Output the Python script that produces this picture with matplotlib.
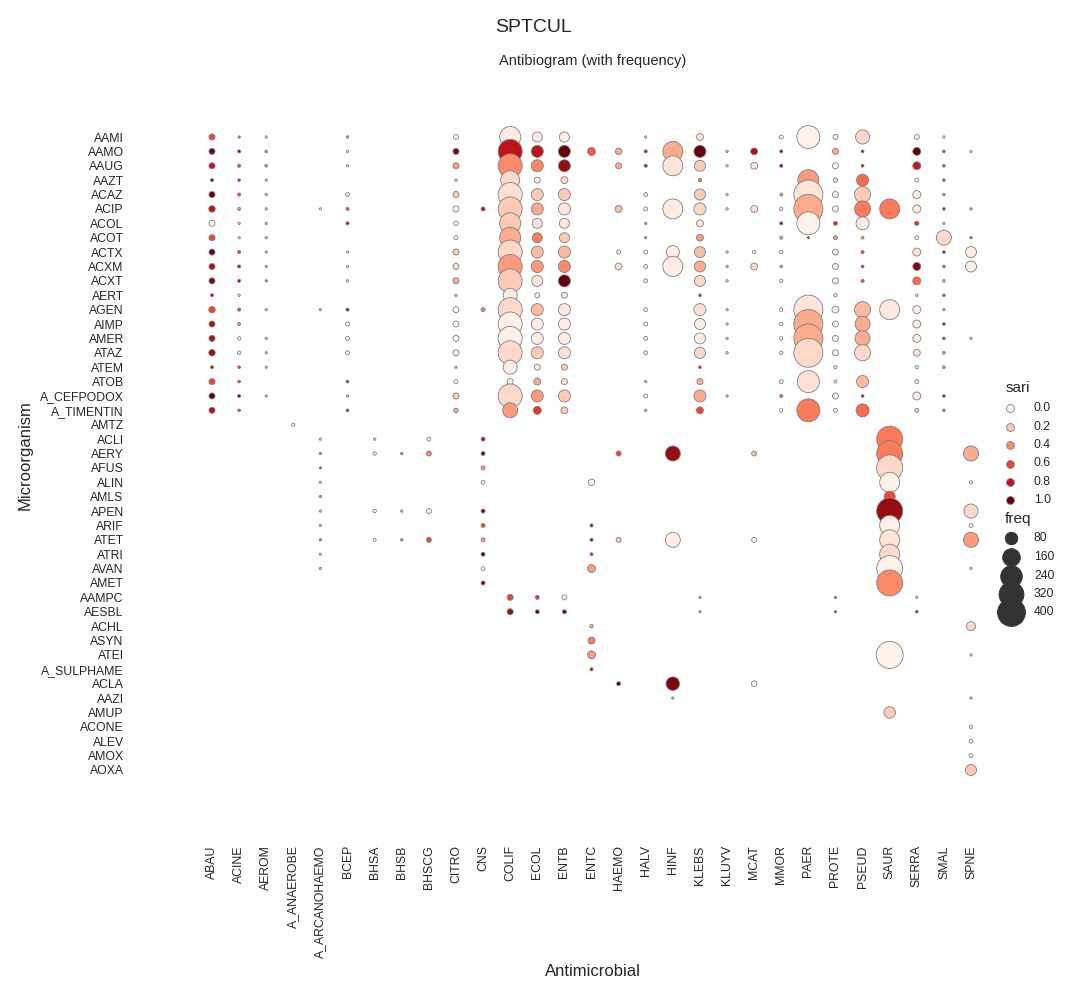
import matplotlib
matplotlib.use("Agg")
import matplotlib.pyplot as plt
import numpy as np

plt.rcParams['font.family'] = ['Liberation Sans', 'DejaVu Sans']
TXT = '#262626'

# ---------------- categories ----------------
organisms = ['ABAU', 'ACINE', 'AEROM', 'A_ANAEROBE', 'A_ARCANOHAEMO', 'BCEP', 'BHSA',
             'BHSB', 'BHSCG', 'CITRO', 'CNS', 'COLIF', 'ECOL', 'ENTB', 'ENTC', 'HAEMO',
             'HALV', 'HINF', 'KLEBS', 'KLUYV', 'MCAT', 'MMOR', 'PAER', 'PROTE', 'PSEUD',
             'SAUR', 'SERRA', 'SMAL', 'SPNE']

antimicrobials = ['AAMI', 'AAMO', 'AAUG', 'AAZT', 'ACAZ', 'ACIP', 'ACOL', 'ACOT', 'ACTX',
                  'ACXM', 'ACXT', 'AERT', 'AGEN', 'AIMP', 'AMER', 'ATAZ', 'ATEM', 'ATOB',
                  'A_CEFPODOX', 'A_TIMENTIN', 'AMTZ', 'ACLI', 'AERY', 'AFUS', 'ALIN', 'AMLS',
                  'APEN', 'ARIF', 'ATET', 'ATRI', 'AVAN', 'AMET', 'AAMPC', 'AESBL', 'ACHL',
                  'ASYN', 'ATEI', 'A_SULPHAME', 'ACLA', 'AAZI', 'AMUP', 'ACONE', 'ALEV',
                  'AMOX', 'AOXA']

# ---------------- values: (organism, sari, freq) per antimicrobial ----------------
AAMI = [('ABAU', 0.6, 17), ('ACINE', 0.5, 1), ('AEROM', 0.1, 1), ('BCEP', 0.5, 1),
        ('CITRO', 0.0, 11), ('COLIF', 0.05, 227), ('ECOL', 0.05, 50), ('ENTB', 0.05, 50),
        ('HALV', 0.1, 1), ('KLEBS', 0.1, 23), ('MMOR', 0.0, 6), ('PAER', 0.03, 272),
        ('PROTE', 0.1, 11), ('PSEUD', 0.15, 100), ('SERRA', 0.0, 11), ('SMAL', 0.1, 1)]
AAMO = [('ABAU', 1.0, 17), ('ACINE', 0.9, 3), ('AEROM', 0.4, 2), ('BCEP', 0.1, 1),
        ('CITRO', 0.95, 17), ('COLIF', 0.8, 297), ('ECOL', 0.8, 73), ('ENTB', 1.0, 73),
        ('ENTC', 0.55, 31), ('HAEMO', 0.3, 20), ('HALV', 0.8, 3), ('HINF', 0.3, 205),
        ('KLEBS', 1.0, 73), ('KLUYV', 0.3, 1), ('MCAT', 0.85, 23), ('MMOR', 0.9, 3),
        ('PROTE', 0.3, 17), ('PSEUD', 0.9, 2), ('SERRA', 1.0, 31), ('SMAL', 0.6, 2),
        ('SPNE', 0.2, 1)]
AAUG = [('ABAU', 0.8, 17), ('ACINE', 0.6, 3), ('AEROM', 0.4, 2), ('BCEP', 0.1, 1),
        ('CITRO', 0.35, 17), ('COLIF', 0.4, 297), ('ECOL', 0.4, 73), ('ENTB', 0.9, 73),
        ('HAEMO', 0.3, 17), ('HALV', 0.8, 3), ('HINF', 0.1, 205), ('KLEBS', 0.2, 61),
        ('KLUYV', 0.2, 1), ('MCAT', 0.1, 23), ('MMOR', 0.9, 3), ('PROTE', 0.0, 17),
        ('PSEUD', 0.9, 2), ('SERRA', 0.75, 31), ('SMAL', 0.6, 2)]
AAZT = [('ABAU', 0.9, 3), ('ACINE', 0.7, 2), ('AEROM', 0.2, 1), ('CITRO', 0.2, 1),
        ('COLIF', 0.15, 185), ('ECOL', 0.05, 17), ('ENTB', 0.15, 23), ('KLEBS', 0.5, 4),
        ('PAER', 0.35, 227), ('PROTE', 0.15, 8), ('PSEUD', 0.5, 73), ('SERRA', 0.0, 6),
        ('SMAL', 0.6, 2)]
ACAZ = [('ABAU', 1.0, 17), ('ACINE', 0.6, 3), ('AEROM', 0.2, 1), ('BCEP', 0.0, 6),
        ('CITRO', 0.2, 17), ('COLIF', 0.12, 297), ('ECOL', 0.2, 73), ('ENTB', 0.2, 73),
        ('HALV', 0.0, 6), ('KLEBS', 0.2, 61), ('KLUYV', 0.2, 1), ('MMOR', 0.35, 3),
        ('PAER', 0.1, 434), ('PROTE', 0.05, 17), ('PSEUD', 0.2, 131), ('SERRA', 0.05, 31),
        ('SMAL', 0.35, 2)]
ACIP = [('ABAU', 0.8, 20), ('ACINE', 0.4, 3), ('AEROM', 0.2, 1), ('A_ARCANOHAEMO', 0.1, 1),
        ('BCEP', 0.55, 3), ('CITRO', 0.0, 17), ('CNS', 0.85, 6), ('COLIF', 0.2, 297),
        ('ECOL', 0.3, 73), ('ENTB', 0.08, 73), ('HAEMO', 0.25, 23), ('HALV', 0.0, 6),
        ('HINF', 0.05, 205), ('KLEBS', 0.15, 73), ('KLUYV', 0.2, 1), ('MCAT', 0.1, 23),
        ('MMOR', 0.0, 4), ('PAER', 0.3, 434), ('PROTE', 0.05, 17), ('PSEUD', 0.45, 131),
        ('SAUR', 0.45, 205), ('SERRA', 0.05, 31), ('SMAL', 0.7, 2), ('SPNE', 0.4, 1)]
ACOL = [('ABAU', 0.0, 17), ('ACINE', 0.2, 1), ('AEROM', 0.2, 1), ('BCEP', 0.9, 3),
        ('CITRO', 0.0, 8), ('COLIF', 0.2, 227), ('ECOL', 0.1, 50), ('ENTB', 0.08, 50),
        ('HALV', 0.4, 1), ('KLEBS', 0.1, 23), ('MMOR', 0.9, 3), ('PAER', 0.02, 272),
        ('PROTE', 0.7, 6), ('PSEUD', 0.05, 86), ('SERRA', 0.65, 8), ('SMAL', 0.2, 1)]
ACOT = [('ABAU', 0.6, 17), ('ACINE', 0.2, 1), ('AEROM', 0.2, 1), ('CITRO', 0.0, 6),
        ('COLIF', 0.3, 227), ('ECOL', 0.45, 50), ('ENTB', 0.2, 50), ('HALV', 0.4, 1),
        ('KLEBS', 0.35, 23), ('MMOR', 0.35, 3), ('PAER', 0.7, 1), ('PROTE', 0.35, 6),
        ('PSEUD', 0.35, 2), ('SERRA', 0.0, 6), ('SMAL', 0.15, 115), ('SPNE', 0.6, 1)]
ACTX = [('ABAU', 1.0, 17), ('ACINE', 0.6, 3), ('AEROM', 0.2, 1), ('BCEP', 0.1, 1),
        ('CITRO', 0.2, 17), ('COLIF', 0.15, 297), ('ECOL', 0.25, 73), ('ENTB', 0.25, 73),
        ('HAEMO', 0.0, 6), ('HALV', 0.0, 6), ('HINF', 0.05, 86), ('KLEBS', 0.25, 61),
        ('KLUYV', 0.2, 1), ('MCAT', 0.0, 4), ('MMOR', 0.0, 4), ('PROTE', 0.1, 17),
        ('PSEUD', 0.6, 3), ('SERRA', 0.12, 31), ('SMAL', 0.8, 2), ('SPNE', 0.05, 61)]
ACXM = [('ABAU', 0.85, 17), ('ACINE', 0.8, 3), ('AEROM', 0.3, 1), ('BCEP', 0.1, 1),
        ('CITRO', 0.15, 17), ('COLIF', 0.35, 297), ('ECOL', 0.35, 73), ('ENTB', 0.4, 73),
        ('HAEMO', 0.15, 23), ('HALV', 0.0, 6), ('HINF', 0.05, 205), ('KLEBS', 0.3, 61),
        ('KLUYV', 0.3, 1), ('MCAT', 0.15, 23), ('MMOR', 0.35, 2), ('PROTE', 0.1, 17),
        ('PSEUD', 0.7, 2), ('SERRA', 0.95, 31), ('SMAL', 0.6, 2), ('SPNE', 0.05, 61)]
ACXT = [('ABAU', 0.95, 17), ('ACINE', 0.8, 3), ('AEROM', 0.5, 1), ('BCEP', 0.1, 1),
        ('CITRO', 0.3, 17), ('COLIF', 0.2, 297), ('ECOL', 0.1, 61), ('ENTB', 1.0, 73),
        ('HALV', 0.0, 6), ('KLEBS', 0.15, 61), ('KLUYV', 0.2, 1), ('MMOR', 0.0, 4),
        ('PROTE', 0.05, 17), ('PSEUD', 0.6, 3), ('SERRA', 0.5, 31), ('SMAL', 0.3, 2)]
AERT = [('ABAU', 0.8, 3), ('ACINE', 0.2, 1), ('CITRO', 0.2, 1), ('COLIF', 0.05, 100),
        ('ECOL', 0.05, 11), ('ENTB', 0.08, 17), ('KLEBS', 0.7, 2), ('PROTE', 0.0, 4),
        ('SERRA', 0.1, 1), ('SMAL', 0.6, 2)]
AGEN = [('ABAU', 0.6, 20), ('ACINE', 0.6, 3), ('AEROM', 0.2, 1), ('A_ARCANOHAEMO', 0.2, 1),
        ('BCEP', 0.85, 3), ('CITRO', 0.0, 17), ('CNS', 0.45, 6), ('COLIF', 0.15, 297),
        ('ECOL', 0.25, 73), ('ENTB', 0.08, 73), ('HALV', 0.0, 6), ('KLEBS', 0.12, 73),
        ('KLUYV', 0.2, 1), ('MMOR', 0.0, 4), ('PAER', 0.1, 434), ('PROTE', 0.05, 23),
        ('PSEUD', 0.25, 131), ('SAUR', 0.08, 205), ('SERRA', 0.05, 31), ('SMAL', 0.3, 1)]
AIMP = [('ABAU', 0.85, 17), ('ACINE', 0.4, 3), ('BCEP', 0.0, 6), ('CITRO', 0.0, 17),
        ('COLIF', 0.03, 297), ('ECOL', 0.05, 73), ('ENTB', 0.05, 73), ('HALV', 0.0, 6),
        ('KLEBS', 0.05, 61), ('KLUYV', 0.2, 1), ('MMOR', 0.0, 4), ('PAER', 0.3, 434),
        ('PROTE', 0.02, 17), ('PSEUD', 0.3, 115), ('SERRA', 0.05, 31), ('SMAL', 0.8, 2)]
AMER = [('ABAU', 0.85, 17), ('ACINE', 0.0, 4), ('AEROM', 0.2, 1), ('BCEP', 0.0, 6),
        ('CITRO', 0.0, 17), ('COLIF', 0.03, 297), ('ECOL', 0.05, 73), ('ENTB', 0.05, 73),
        ('HALV', 0.0, 6), ('KLEBS', 0.05, 61), ('KLUYV', 0.2, 1), ('MMOR', 0.0, 4),
        ('PAER', 0.3, 434), ('PROTE', 0.05, 17), ('PSEUD', 0.3, 115), ('SERRA', 0.05, 31),
        ('SMAL', 0.7, 2), ('SPNE', 0.2, 1)]
ATAZ = [('ABAU', 0.9, 20), ('ACINE', 0.0, 4), ('AEROM', 0.2, 1), ('BCEP', 0.0, 6),
        ('CITRO', 0.0, 17), ('COLIF', 0.15, 297), ('ECOL', 0.2, 73), ('ENTB', 0.12, 73),
        ('HALV', 0.0, 6), ('KLEBS', 0.15, 61), ('KLUYV', 0.2, 1), ('MMOR', 0.0, 4),
        ('PAER', 0.15, 434), ('PROTE', 0.05, 17), ('PSEUD', 0.15, 131), ('SERRA', 0.1, 23),
        ('SMAL', 0.4, 2)]
ATEM = [('ABAU', 0.8, 3), ('ACINE', 0.6, 2), ('AEROM', 0.2, 1), ('CITRO', 0.2, 1),
        ('COLIF', 0.05, 100), ('ECOL', 0.08, 17), ('ENTB', 0.2, 17), ('KLEBS', 0.7, 2),
        ('PROTE', 0.0, 3), ('SERRA', 0.0, 3), ('SMAL', 0.4, 2)]
ATOB = [('ABAU', 0.6, 17), ('ACINE', 0.6, 2), ('BCEP', 0.8, 2), ('CITRO', 0.0, 6),
        ('COLIF', 0.0, 17), ('ECOL', 0.3, 23), ('ENTB', 0.12, 17), ('HALV', 0.3, 1),
        ('KLEBS', 0.3, 17), ('MMOR', 0.0, 6), ('PAER', 0.12, 249), ('PROTE', 0.0, 3),
        ('PSEUD', 0.25, 73), ('SERRA', 0.0, 6)]
A_CEFPODOX = [('ABAU', 1.0, 17), ('ACINE', 0.9, 3), ('AEROM', 0.2, 1), ('BCEP', 0.2, 1),
              ('CITRO', 0.2, 17), ('COLIF', 0.15, 297), ('ECOL', 0.35, 73), ('ENTB', 0.2, 73),
              ('HALV', 0.0, 6), ('KLEBS', 0.3, 73), ('KLUYV', 0.3, 1), ('MMOR', 0.5, 3),
              ('PROTE', 0.05, 17), ('PSEUD', 0.8, 2), ('SERRA', 0.05, 31), ('SMAL', 0.8, 2)]
A_TIMENTIN = [('ABAU', 0.85, 17), ('ACINE', 0.6, 2), ('BCEP', 0.8, 2), ('CITRO', 0.3, 8),
              ('COLIF', 0.35, 115), ('ECOL', 0.65, 31), ('ENTB', 0.2, 23), ('HALV', 0.3, 1),
              ('KLEBS', 0.6, 23), ('MMOR', 0.0, 4), ('PAER', 0.45, 272), ('PROTE', 0.0, 6),
              ('PSEUD', 0.5, 86), ('SERRA', 0.2, 6), ('SMAL', 0.4, 2)]
AMTZ = [('A_ANAEROBE', 0.0, 3)]
ACLI = [('A_ARCANOHAEMO', 0.2, 1), ('BHSA', 0.2, 1), ('BHSCG', 0.0, 6), ('CNS', 0.85, 6),
        ('SAUR', 0.45, 348)]
AERY = [('A_ARCANOHAEMO', 0.5, 1), ('BHSA', 0.0, 4), ('BHSB', 0.5, 1), ('BHSCG', 0.4, 11),
        ('CNS', 1.0, 6), ('HAEMO', 0.6, 11), ('HINF', 0.9, 115), ('MCAT', 0.25, 11),
        ('SAUR', 0.45, 348), ('SPNE', 0.3, 115)]
AFUS = [('A_ARCANOHAEMO', 0.6, 1), ('CNS', 0.35, 6), ('SAUR', 0.15, 348)]
ALIN = [('A_ARCANOHAEMO', 0.2, 1), ('CNS', 0.0, 6), ('ENTC', 0.02, 20), ('SAUR', 0.03, 205),
        ('SPNE', 0.0, 3)]
AMLS = [('A_ARCANOHAEMO', 0.4, 1), ('SAUR', 0.6, 61)]
APEN = [('A_ARCANOHAEMO', 0.2, 1), ('BHSA', 0.0, 4), ('BHSB', 0.2, 1), ('BHSCG', 0.0, 11),
        ('CNS', 1.0, 6), ('SAUR', 0.9, 348), ('SPNE', 0.15, 100)]
ARIF = [('A_ARCANOHAEMO', 0.2, 1), ('CNS', 0.6, 6), ('ENTC', 0.9, 3), ('SAUR', 0.03, 205),
        ('SPNE', 0.0, 6)]
ATET = [('A_ARCANOHAEMO', 0.5, 1), ('BHSA', 0.0, 3), ('BHSB', 0.5, 1), ('BHSCG', 0.6, 11),
        ('CNS', 0.35, 6), ('ENTC', 0.9, 3), ('HAEMO', 0.2, 11), ('HINF', 0.05, 115),
        ('MCAT', 0.0, 11), ('SAUR', 0.1, 205), ('SPNE', 0.35, 115)]
ATRI = [('A_ARCANOHAEMO', 0.2, 1), ('CNS', 1.0, 6), ('ENTC', 0.6, 3), ('SAUR', 0.15, 205)]
AVAN = [('A_ARCANOHAEMO', 0.2, 1), ('CNS', 0.0, 6), ('ENTC', 0.35, 31), ('SAUR', 0.02, 348),
        ('SPNE', 0.2, 1)]
AMET = [('CNS', 1.0, 6), ('SAUR', 0.4, 348)]
AAMPC = [('COLIF', 0.6, 17), ('ECOL', 0.65, 6), ('ENTB', 0.0, 11), ('KLEBS', 0.3, 1),
         ('PROTE', 0.6, 1), ('SERRA', 0.2, 1)]
AESBL = [('COLIF', 0.9, 17), ('ECOL', 1.0, 6), ('ENTB', 1.0, 6), ('KLEBS', 0.3, 1),
         ('PROTE', 0.7, 1), ('SERRA', 0.8, 2)]
ACHL = [('ENTC', 0.25, 4), ('SPNE', 0.15, 40)]
ASYN = [('ENTC', 0.45, 23)]
ATEI = [('ENTC', 0.35, 31), ('SAUR', 0.02, 376), ('SPNE', 0.2, 1)]
A_SULPHAME = [('ENTC', 0.9, 3)]
ACLA = [('HAEMO', 1.0, 6), ('HINF', 0.95, 93), ('MCAT', 0.0, 14)]
AAZI = [('HINF', 0.3, 1), ('SPNE', 0.3, 1)]
AMUP = [('SAUR', 0.2, 67)]
ACONE = [('SPNE', 0.0, 4)]
ALEV = [('SPNE', 0.0, 6)]
AMOX = [('SPNE', 0.0, 6)]
AOXA = [('SPNE', 0.2, 61)]

row_data = [AAMI, AAMO, AAUG, AAZT, ACAZ, ACIP, ACOL, ACOT, ACTX, ACXM, ACXT, AERT, AGEN,
            AIMP, AMER, ATAZ, ATEM, ATOB, A_CEFPODOX, A_TIMENTIN, AMTZ, ACLI, AERY, AFUS,
            ALIN, AMLS, APEN, ARIF, ATET, ATRI, AVAN, AMET, AAMPC, AESBL, ACHL, ASYN, ATEI,
            A_SULPHAME, ACLA, AAZI, AMUP, ACONE, ALEV, AMOX, AOXA]

sari_legend = [0.0, 0.2, 0.4, 0.6, 0.8, 1.0]
freq_legend = [80, 160, 240, 320, 400]


def marker_area(freq):
    return np.asarray(freq, dtype=float) + 2.0


# ---------------- assemble ----------------
xs, ys, cs, fs = [], [], [], []
for i, entries in enumerate(row_data):
    for org, sari, freq in entries:
        xs.append(organisms.index(org))
        ys.append(i)
        cs.append(sari)
        fs.append(freq)

W, H = 1066, 1000
fig = plt.figure(figsize=(W / 100, H / 100), dpi=100)

ax_left, ax_right, ax_top, ax_bot = 128, 1056, 72, 841
ax = fig.add_axes([ax_left / W, 1 - ax_bot / H, (ax_right - ax_left) / W, (ax_bot - ax_top) / H])

cmap = plt.get_cmap('Reds')
ax.scatter(xs, ys, s=marker_area(fs), c=cs, cmap=cmap, vmin=0, vmax=1,
           edgecolors='grey', linewidths=0.6, zorder=3)

# layout of category positions (pixel placement of first/last category)
x0_px, x1_px = 212, 971
y0_px, y1_px = 137, 770
nx, ny = len(organisms) - 1, len(antimicrobials) - 1
dxp = (x1_px - x0_px) / nx
dyp = (y1_px - y0_px) / ny
ax.set_xlim(-(x0_px - ax_left) / dxp, nx + (ax_right - x1_px) / dxp)
ax.set_ylim(ny + (ax_bot - y1_px) / dyp, -(y0_px - ax_top) / dyp)

ax.set_xticks(range(len(organisms)))
ax.set_xticklabels(organisms, rotation=90, fontsize=8.8, color=TXT)
ax.set_yticks(range(len(antimicrobials)))
ax.set_yticklabels(antimicrobials, fontsize=8.8, color=TXT)
ax.tick_params(length=0, pad=3)
for sp in ax.spines.values():
    sp.set_visible(False)

fig.text(533 / W, 1 - 27.5 / H, 'SPTCUL', ha='center', va='center', fontsize=14, color=TXT)
fig.text(593 / W, 1 - 60.5 / H, 'Antibiogram (with frequency)', ha='center', va='center',
         fontsize=10.5, color=TXT)
fig.text(593 / W, 1 - 972 / H, 'Antimicrobial', ha='center', va='center', fontsize=12, color=TXT)
fig.text(25 / W, 1 - 455 / H, 'Microorganism', ha='center', va='center', rotation=90,
         fontsize=12, color=TXT)

# ---------------- legend (drawn in pixel coords) ----------------
lax = fig.add_axes([0, 0, 1, 1], zorder=5)
lax.set_xlim(0, W)
lax.set_ylim(H, 0)
lax.axis('off')

lax.text(1006, 388, 'sari', ha='left', va='center', fontsize=11, color=TXT)
hue_y = [408, 426.5, 445, 463.5, 482, 500]
for v, yy in zip(sari_legend, hue_y):
    lax.scatter([1010], [yy], s=32, color=cmap(v), edgecolors='grey', linewidths=0.6)
    lax.text(1034, yy, f'{v:.1f}', ha='left', va='center', fontsize=8.8, color=TXT)

lax.text(1005, 519, 'freq', ha='left', va='center', fontsize=11, color=TXT)
size_y = [538, 557, 576, 594, 612]
for f, yy in zip(freq_legend, size_y):
    lax.scatter([1011], [yy], s=marker_area(f), color='#333333', edgecolors='#333333',
                linewidths=0.6)
    lax.text(1034, yy, str(f), ha='left', va='center', fontsize=8.8, color=TXT)

fig.savefig('out.png', dpi=100)
